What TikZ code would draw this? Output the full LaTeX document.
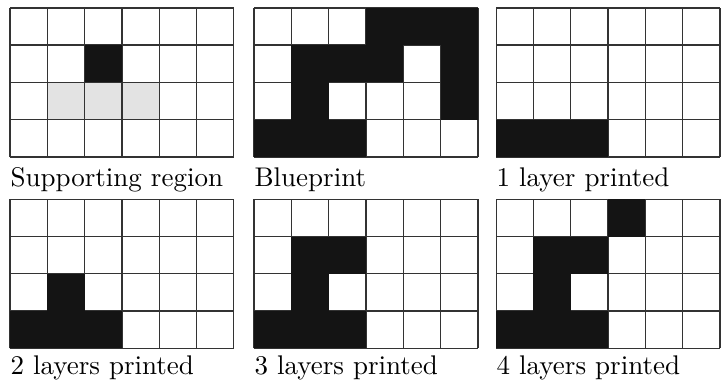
\documentclass[tikz,border=0pt]{standalone}
\usepackage{xcolor}
\usepackage{tikz}
\usetikzlibrary{positioning}

\begin{document}
\begin{tikzpicture}[
    x=0.5cm, y=0.5cm,
    gridline/.style={draw=black!80, line width=0.5pt, step=1},
    printed/.style={fill=black!92},
    support/.style={fill=gray!22},
    caption/.style={anchor=base west, inner sep=0pt, font=\fontsize{10.3}{12}\selectfont}
]
    \useasboundingbox (0,0) rectangle (19.38,10.16);

    % top row
    \begin{scope}[shift={(0.268,5.95)}]
        \foreach \x in {1,2,3} \fill[support] (\x,1) rectangle ++(1,1);
        \draw[gridline] (0,0) grid (6,4);
        \fill[printed] (2,2) rectangle ++(1,1);
        \node[caption] (support) at (0,-0.78) {Supporting region};
    \end{scope}
    \begin{scope}[shift={(6.81,5.95)}]
        \draw[gridline] (0,0) grid (6,4);
        \foreach \x/\y in {3/3,4/3,5/3, 1/2,2/2,3/2,5/2, 1/1,5/1, 0/0,1/0,2/0}
            \fill[printed] (\x,\y) rectangle ++(1,1);
        \node[caption] (blueprint) at (0,-0.78) {Blueprint};
    \end{scope}
    \begin{scope}[shift={(13.30,5.95)}]
        \draw[gridline] (0,0) grid (6,4);
        \foreach \x/\y in {0/0,1/0,2/0}
            \fill[printed] (\x,\y) rectangle ++(1,1);
        \node[caption] (layer1) at (0,-0.78) {1 layer printed};
    \end{scope}

    % bottom row
    \begin{scope}[shift={(0.268,0.82)}]
        \draw[gridline] (0,0) grid (6,4);
        \foreach \x/\y in {0/0,1/0,2/0, 1/1}
            \fill[printed] (\x,\y) rectangle ++(1,1);
        \node[caption] (layer2) at (0,-0.71) {2 layers printed};
    \end{scope}
    \begin{scope}[shift={(6.81,0.82)}]
        \draw[gridline] (0,0) grid (6,4);
        \foreach \x/\y in {0/0,1/0,2/0, 1/1, 1/2,2/2}
            \fill[printed] (\x,\y) rectangle ++(1,1);
        \node[caption] (layer3) at (0,-0.71) {3 layers printed};
    \end{scope}
    \begin{scope}[shift={(13.30,0.82)}]
        \draw[gridline] (0,0) grid (6,4);
        \foreach \x/\y in {0/0,1/0,2/0, 1/1, 1/2,2/2, 3/3}
            \fill[printed] (\x,\y) rectangle ++(1,1);
        \node[caption] (layer4) at (0,-0.71) {4 layers printed};
    \end{scope}
\end{tikzpicture}
\end{document}
